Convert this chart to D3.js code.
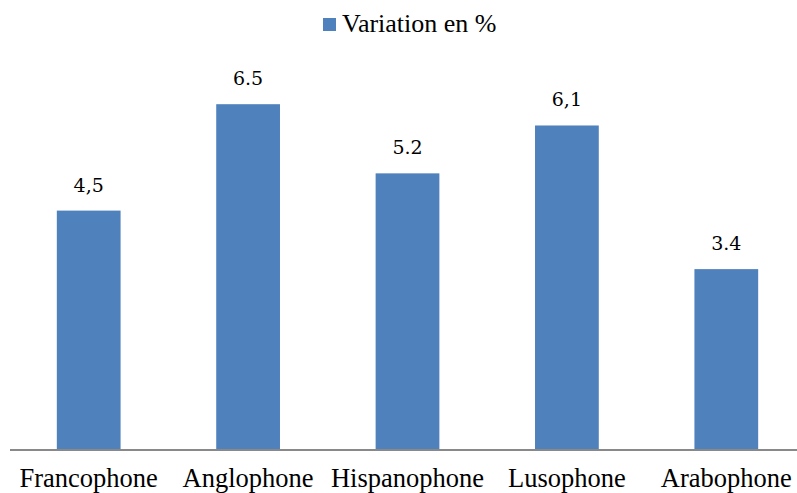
<html>
<head>
<meta charset="utf-8">
<script src="https://d3js.org/d3.v7.min.js"></script>
</head>
<body style="margin:0">
<svg width="797" height="493"></svg>
<script>
    // Chart data
    const categories = ["Francophone", "Anglophone", "Hispanophone", "Lusophone", "Arabophone"];
    const values = [4.5, 6.5, 5.2, 6.1, 3.4];
    const valueLabels = ["4,5", "6.5", "5.2", "6,1", "3.4"];
    const seriesName = "Variation en %";

    const width = 797;
    const barColor = "#4F81BD";

    const svg = d3.select("svg")
        .attr("font-family", "Liberation Serif");

    // Scales
    const x = d3.scaleBand()
        .domain(categories)
        .range([9, 806])
        .paddingInner(0.6)
        .paddingOuter(0.3);

    const y = d3.scaleLinear()
        .domain([0, 7])
        .range([450, 77.6]);

    // Bars
    svg.selectAll("rect.bar")
        .data(values)
        .enter().append("rect")
        .attr("class", "bar")
        .attr("x", (d, i) => x(categories[i]))
        .attr("y", d => y(d))
        .attr("width", x.bandwidth())
        .attr("height", d => y(0) - y(d))
        .attr("fill", barColor);

    // Value labels
    svg.selectAll("text.val")
        .data(values)
        .enter().append("text")
        .attr("class", "val")
        .attr("x", (d, i) => x(categories[i]) + x.bandwidth() / 2)
        .attr("y", d => y(d) - 19)
        .attr("text-anchor", "middle")
        .style("font-family", (d) => `"DejaVu Serif"`)
        .style("font-size", "19px")
        .text((d, i) => valueLabels[i]);

    // Baseline axis
    const axisG = svg.append("g")
        .attr("transform", `translate(0,${y(0)})`)
        .call(d3.axisBottom(x).tickSize(0).tickPadding(18));
    axisG.attr("font-family", "Liberation Serif").attr("font-size", 26.5);
    axisG.select(".domain")
        .attr("d", `M10,0H${width}`)
        .attr("stroke", "#898989")
        .attr("stroke-width", 2);
    axisG.selectAll("text")
        .attr("fill", "#000")
        .style("font-family", (d) => `"Liberation Serif"`)
        .style("font-size", "26.5px");

    // Legend
    svg.append("rect")
        .attr("x", 323)
        .attr("y", 18)
        .attr("width", 13)
        .attr("height", 13)
        .attr("fill", barColor);
    svg.append("text")
        .attr("x", 342)
        .attr("y", 31.5)
        .style("font-family", (d) => `"Liberation Serif"`)
        .style("font-size", "26px")
        .text(seriesName);
</script>
</body>
</html>
